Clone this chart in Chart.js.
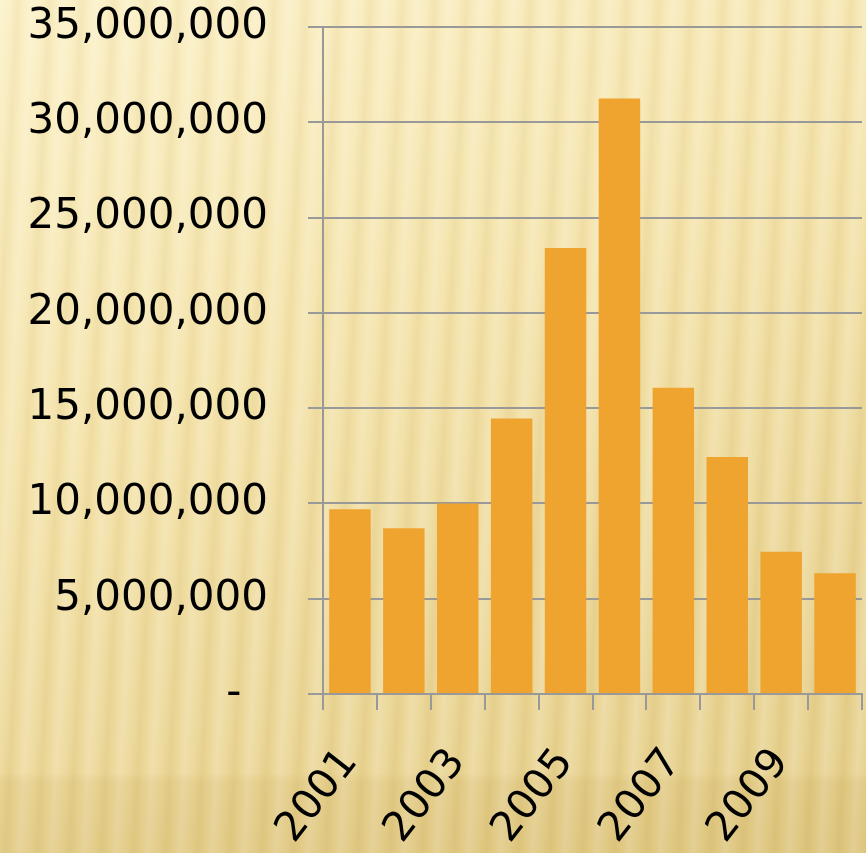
<!DOCTYPE html>
<html>
<head>
<meta charset="utf-8">
<script src="https://cdn.jsdelivr.net/npm/chart.js@4/dist/chart.umd.min.js"></script>
<style>
  html, body { margin: 0; padding: 0; }
  body {
    width: 866px; height: 853px; overflow: hidden;
    background:
      linear-gradient(180deg, rgba(0,0,0,0) 0px, rgba(0,0,0,0) 772px, rgba(170,130,30,0.09) 782px, rgba(170,130,30,0.11) 853px),
      repeating-linear-gradient(93deg, rgba(255,255,255,0.20) 0px, rgba(255,255,255,0.05) 10px, rgba(150,110,20,0.06) 18px, rgba(255,255,255,0.05) 26px, rgba(255,255,255,0.20) 32px),
      linear-gradient(160deg, #FBF0C6 0%, #F4E3AA 40%, #EAD594 75%, #E4CD88 100%);
  }
  #wrap { position: absolute; left: 0; top: 0; width: 866px; height: 853px; }
</style>
</head>
<body>
<div id="wrap"><canvas id="c" width="866" height="853"></canvas></div>
<script>
const years = ['2001','2002','2003','2004','2005','2006','2007','2008','2009','2010'];
const values = [9700000, 8700000, 10000000, 14450000, 23400000, 31250000, 16070000, 12430000, 7470000, 6330000];
const yTicks = [0, 5000000, 10000000, 15000000, 20000000, 25000000, 30000000, 35000000];

const FONT = "'DejaVu Sans', sans-serif";

function zeroPad(s) { s.paddingTop = 0; s.paddingBottom = 0; s.paddingLeft = 0; s.paddingRight = 0; }

new Chart(document.getElementById('c'), {
  type: 'bar',
  data: {
    labels: years,
    datasets: [{
      data: values,
      backgroundColor: '#F0A430',
      borderWidth: 0,
      categoryPercentage: 1.0,
      barPercentage: 0.77
    }]
  },
  options: {
    responsive: false,
    animation: false,
    plugins: { legend: { display: false }, tooltip: { enabled: false } },
    layout: { padding: { top: 27, right: 4, bottom: 0, left: 0 } },
    scales: {
      x: {
        offset: true,
        grid: { offset: true, drawOnChartArea: false, drawTicks: true, tickLength: 16, color: '#999999', lineWidth: 2 },
        border: { color: '#999999', width: 2 },
        ticks: {
          autoSkip: false,
          maxRotation: 52, minRotation: 52,
          padding: 30,
          labelOffset: 0,
          color: '#000000',
          font: { family: FONT, size: 41 },
          callback: function(v, i) { return i % 2 === 0 ? years[i] : ''; }
        },
        afterFit: function(s) { s.height = 159; zeroPad(s); }
      },
      y: {
        min: 0, max: 35000000,
        afterBuildTicks: function(s) { s.ticks = yTicks.map(v => ({ value: v })); },
        grid: { color: '#999999', lineWidth: 2, tickLength: 15 },
        border: { color: '#999999', width: 2 },
        ticks: {
          padding: 40,
          color: '#000000',
          font: { family: FONT, size: 42 },
          callback: function(v) { return v === 0 ? '-  ' : Number(v).toLocaleString('en-US'); }
        },
        afterFit: function(s) { s.width = 323; zeroPad(s); }
      }
    }
  }
});
</script>
</body>
</html>
